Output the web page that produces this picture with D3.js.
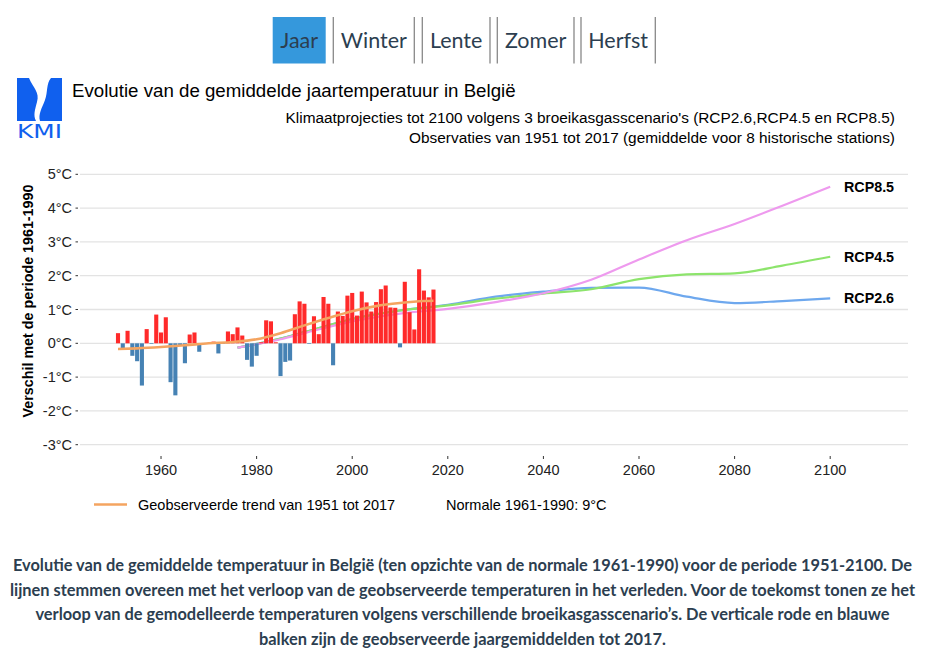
<!DOCTYPE html>
<html><head><meta charset="utf-8">
<script src="https://cdn.jsdelivr.net/npm/d3@7"></script>
<style>
body{margin:0;background:#fff;}
svg{display:block;}
</style></head>
<body>
<svg id="c" width="925" height="660"></svg>
<script>
// ---------- DATA ----------
const tabs = ["Jaar","Winter","Lente","Zomer","Herfst"];
const obsYears = d3.range(1951, 2018);
const obsValues = [
 0.30,-0.18,0.37,-0.37,-0.53,-1.25,0.42,-0.02,0.85,0.32,
 0.77,-1.15,-1.54,-0.08,-0.59,0.26,0.32,-0.25,-0.02,0.01,
 0.05,-0.30,-0.02,0.35,0.27,0.47,0.23,-0.49,-0.69,-0.37,
 0.03,0.68,0.65,0.03,-0.97,-0.55,-0.51,0.86,1.24,1.17,
 -0.02,0.80,0.27,1.37,1.17,-0.65,0.94,0.81,1.41,1.49,
 0.82,1.53,1.21,0.94,1.22,1.60,1.71,1.06,1.05,-0.12,
 1.82,0.92,0.41,2.19,1.56,1.36,1.59];
const trendYears = [1951,1955,1960,1965,1970,1975,1980,1985,1990,1995,2000,2005,2010,2015,2017];
const trendValues = [-0.17,-0.15,-0.11,-0.06,0.0,0.04,0.12,0.30,0.53,0.75,0.95,1.10,1.19,1.25,1.26];
const rcpYears = [1976,1985,1990,2000,2010,2020,2030,2040,2050,2060,2070,2080,2090,2100];
const rcp85 = [-0.13,0.12,0.30,0.65,0.88,1.02,1.22,1.48,1.88,2.48,3.05,3.53,4.07,4.63];
const rcp45 = [-0.13,0.14,0.33,0.72,0.97,1.12,1.32,1.47,1.60,1.90,2.04,2.07,2.30,2.56];
const rcp26 = [-0.13,0.14,0.33,0.72,0.97,1.14,1.38,1.53,1.64,1.65,1.38,1.19,1.25,1.33];
const rcpNames = ["RCP8.5","RCP4.5","RCP2.6"];
const yTicks = [-3,-2,-1,0,1,2,3,4,5];
const xTicks = [1960,1980,2000,2020,2040,2060,2080,2100];
const title = "Evolutie van de gemiddelde jaartemperatuur in België";
const sub1 = "Klimaatprojecties tot 2100 volgens 3 broeikasgasscenario's (RCP2.6,RCP4.5 en RCP8.5)";
const sub2 = "Observaties van 1951 tot 2017 (gemiddelde voor 8 historische stations)";
const yTitle = "Verschil met de periode 1961-1990";
const legendTrend = "Geobserveerde trend van 1951 tot 2017";
const legendNormal = "Normale 1961-1990: 9°C";
const caption = [
 "Evolutie van de gemiddelde temperatuur in België (ten opzichte van de normale 1961-1990) voor de periode 1951-2100. De",
 "lijnen stemmen overeen met het verloop van de geobserveerde temperaturen in het verleden. Voor de toekomst tonen ze het",
 "verloop van de gemodelleerde temperaturen volgens verschillende broeikasgasscenario’s. De verticale rode en blauwe",
 "balken zijn de geobserveerde jaargemiddelden tot 2017."];

// ---------- DRAW ----------
const svg = d3.select("#c");
const AR = "Liberation Sans, Arial, sans-serif";

// tabs
const tabX = [[272.7,325.7],[333.3,414.3],[422.3,490],[497.3,574],[581,655.3]];
tabs.forEach((t,i)=>{
  const [a,b] = tabX[i];
  if(i===0){
    svg.append("rect").attr("x",a).attr("y",17).attr("width",b-a).attr("height",46.5).attr("fill","#3598dc");
  } else {
    [a,b].forEach(xx=>svg.append("line").attr("x1",xx).attr("x2",xx).attr("y1",17).attr("y2",63.5)
      .attr("stroke","#888").attr("stroke-width",1.3));
  }
  svg.append("text").attr("x",(a+b)/2).attr("y",48).attr("text-anchor","middle")
    .attr("font-family","Lato, sans-serif").attr("font-size",21.5).attr("fill","#2c3e50").text(t);
});

// logo
const lg = svg.append("g");
lg.append("rect").attr("x",17).attr("y",78).attr("width",45).attr("height",43).attr("fill","#1060ee");
lg.append("path").attr("fill","#fff")
  .attr("d","M29,78 C33,88 40,92 37,102 C35,110 33,115 36,121 L40,121 C38,114 42,108 45,100 C48,92 46,84 51,78 Z");
lg.append("text").attr("x",17).attr("y",137.5).attr("textLength",45).attr("lengthAdjust","spacingAndGlyphs")
  .attr("font-family","DejaVu Sans, sans-serif").attr("font-size",19).attr("fill","#1060ee").text("KMI");

// titles
svg.append("text").attr("x",72).attr("y",97).attr("font-family",AR).attr("font-size",18.7).attr("fill","#000").text(title);
svg.append("text").attr("x",895).attr("y",123).attr("text-anchor","end").attr("font-family",AR).attr("font-size",15.4).attr("fill","#000").text(sub1);
svg.append("text").attr("x",895).attr("y",142.5).attr("text-anchor","end").attr("font-family",AR).attr("font-size",15.4).attr("fill","#000").text(sub2);

// scales
const x = d3.scaleLinear().domain([1951,2100]).range([118,830.2]);
const y = d3.scaleLinear().domain([-3,5]).range([444.7,174.3]);
const gx0 = 80, gx1 = 908;

// grid + y axis
const gy = svg.append("g");
yTicks.forEach(v=>{
  gy.append("line").attr("x1",gx0).attr("x2",gx1).attr("y1",y(v)).attr("y2",y(v)).attr("stroke","#e3e3e3").attr("stroke-width",1.3);
  gy.append("line").attr("x1",75.5).attr("x2",78).attr("y1",y(v)).attr("y2",y(v)).attr("stroke","#333");
  gy.append("text").attr("x",72).attr("y",y(v)+5).attr("text-anchor","end").attr("font-family",AR).attr("font-size",14.5).attr("fill","#222").text(v+"°C");
});
// x axis
xTicks.forEach(v=>{
  svg.append("line").attr("x1",x(v)).attr("x2",x(v)).attr("y1",456).attr("y2",459).attr("stroke","#333");
  svg.append("text").attr("x",x(v)).attr("y",475).attr("text-anchor","middle").attr("font-family",AR).attr("font-size",14.5).attr("fill","#222").text(v);
});
svg.append("text").attr("transform",`translate(33,${301}) rotate(-90)`).attr("text-anchor","middle")
  .attr("font-family",AR).attr("font-size",14.3).attr("font-weight","bold").attr("fill","#000").text(yTitle);

// RCP lines
const line = d3.line().x(d=>x(d[0])).y(d=>y(d[1])).curve(d3.curveMonotoneX);
const rcpSets = [[rcp26,"#6ea8ee"],[rcp45,"#8de46c"],[rcp85,"#ee9aee"]];
rcpSets.forEach(([vals,col])=>{
  svg.append("path").attr("d",line(rcpYears.map((yy,i)=>[yy,vals[i]])))
    .attr("fill","none").attr("stroke",col).attr("stroke-width",2.2);
});

// bars
const bw = 4.1;
svg.append("g").selectAll("rect").data(obsYears.map((yy,i)=>[yy,obsValues[i]])).join("rect")
  .attr("x",d=>x(d[0])-bw/2).attr("width",bw)
  .attr("y",d=>d[1]>=0?y(d[1]):y(0))
  .attr("height",d=>Math.abs(y(d[1])-y(0)))
  .attr("fill",d=>d[1]>=0?"#ff2a2a":"#4682b4");

// trend line
svg.append("path").attr("d",line(trendYears.map((yy,i)=>[yy,trendValues[i]])))
  .attr("fill","none").attr("stroke","#f4a460").attr("stroke-width",2.6);

// RCP labels
const lastVals = [rcp85[rcp85.length-1], rcp45[rcp45.length-1], rcp26[rcp26.length-1]];
rcpNames.forEach((n,i)=>{
  svg.append("text").attr("x",844).attr("y",y(lastVals[i])+5).attr("font-family",AR)
    .attr("font-size",14.3).attr("font-weight","bold").attr("fill","#000").text(n);
});

// legend
svg.append("line").attr("x1",94).attr("x2",127).attr("y1",504.5).attr("y2",504.5).attr("stroke","#f4a460").attr("stroke-width",2.6);
svg.append("text").attr("x",138).attr("y",509.5).attr("font-family",AR).attr("font-size",14.5).attr("fill","#000").text(legendTrend);
svg.append("text").attr("x",446).attr("y",509.5).attr("font-family",AR).attr("font-size",14.5).attr("fill","#000").text(legendNormal);

// caption
caption.forEach((t,i)=>{
  svg.append("text").attr("x",462.5).attr("y",571+i*24.5).attr("text-anchor","middle")
    .attr("font-family","Lato, sans-serif").attr("font-weight","bold").attr("font-size",16.4).attr("fill","#2c3e50").text(t);
});
</script>
</body></html>
